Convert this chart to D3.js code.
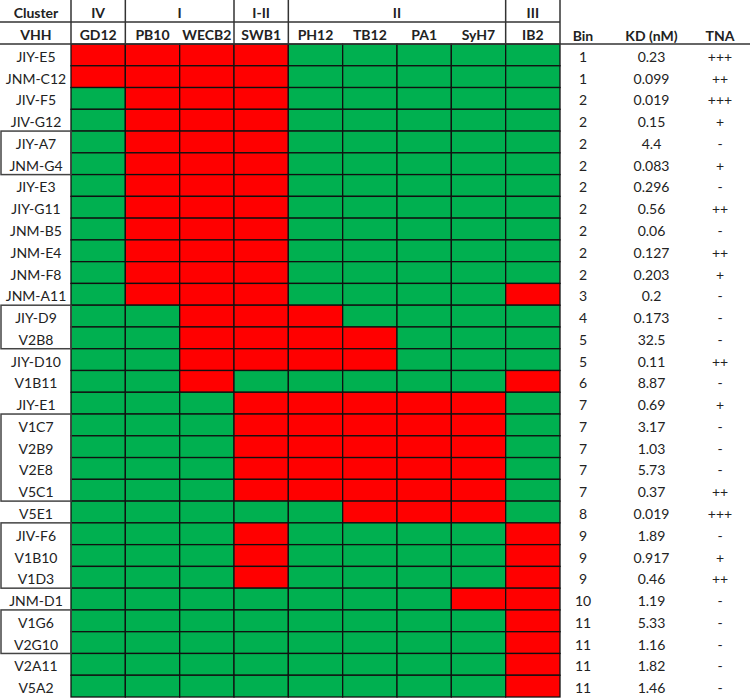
<!DOCTYPE html>
<html>
<head>
<meta charset="utf-8">
<script src="https://cdn.jsdelivr.net/npm/d3@7"></script>
<style>
  body { margin: 0; background: #fff; }
  svg text { font-family: Lato, "Open Sans", sans-serif; fill: #222; }
</style>
</head>
<body>
<div id="chart"></div>
<script>
const w = 750;
const h = 699;

// column antigens and their cluster
const antigens = ["GD12", "PB10", "WECB2", "SWB1", "PH12", "TB12", "PA1", "SyH7", "IB2"];
const antigenCluster = ["IV", "I", "I", "I-II", "II", "II", "II", "II", "III"];

const vhh = ["JIY-E5", "JNM-C12", "JIV-F5", "JIV-G12", "JIY-A7", "JNM-G4", "JIY-E3", "JIY-G11",
  "JNM-B5", "JNM-E4", "JNM-F8", "JNM-A11", "JIY-D9", "V2B8", "JIY-D10", "V1B11", "JIY-E1",
  "V1C7", "V2B9", "V2E8", "V5C1", "V5E1", "JIV-F6", "V1B10", "V1D3", "JNM-D1", "V1G6",
  "V2G10", "V2A11", "V5A2"];

// 1 = competes (red), 0 = no competition (green), one char per antigen
const binding = ["111100000", "111100000", "011100000", "011100000", "011100000", "011100000",
  "011100000", "011100000", "011100000", "011100000", "011100000", "011100001", "001110000",
  "001111000", "001111000", "001000001", "000111110", "000111110", "000111110", "000111110",
  "000111110", "000001110", "000100001", "000100001", "000100001", "000000011", "000000001",
  "000000001", "000000001", "000000001"];

const bins = [1, 1, 2, 2, 2, 2, 2, 2, 2, 2, 2, 3, 4, 5, 5, 6, 7, 7, 7, 7, 7, 8, 9, 9, 9, 10, 11, 11, 11, 11];
const kd = ["0.23", "0.099", "0.019", "0.15", "4.4", "0.083", "0.296", "0.56", "0.06", "0.127",
  "0.203", "0.2", "0.173", "32.5", "0.11", "8.87", "0.69", "3.17", "1.03", "5.73", "0.37",
  "0.019", "1.89", "0.917", "0.46", "1.19", "5.33", "1.16", "1.82", "1.46"];
const tna = ["+++", "++", "+++", "+", "-", "+", "-", "++", "-", "++", "+", "-", "-", "-", "++",
  "-", "+", "-", "-", "-", "++", "+++", "-", "+", "++", "-", "-", "-", "-", "-"];

// VHHs boxed together in the label column
const boxedGroups = [["JIY-A7", "JNM-G4"], ["JIY-D9", "V2B8"], ["V1C7", "V5C1"],
  ["JIV-F6", "V1D3"], ["V1G6", "V2G10"]];

const infoCols = ["Bin", "KD (nM)", "TNA"];

const svg = d3.select("#chart").append("svg")
  .attr("width", w)
  .attr("height", h);

const headTop = 0, headMid = 22, headBottom = 44;

const xScale = d3.scaleBand().domain(antigens).range([71, 560]);
const yScale = d3.scaleBand().domain(vhh).range([headBottom, 697]);
const infoX = d3.scalePoint().domain(infoCols).range([583, 720]);
const colour = d3.scaleOrdinal().domain(["1", "0"]).range(["#ff0000", "#00b050"]);

// cells
const cells = [];
vhh.forEach((v, i) => {
  antigens.forEach((a, j) => cells.push({ v: v, a: a, val: binding[i][j] }));
});

svg.append("g")
  .selectAll("rect")
  .data(cells)
  .join("rect")
  .attr("x", d => xScale(d.a))
  .attr("y", d => yScale(d.v))
  .attr("width", xScale.bandwidth())
  .attr("height", yScale.bandwidth())
  .attr("fill", d => colour(d.val))
  .attr("stroke", "#111")
  .attr("stroke-width", 1.3);

// cluster spans from antigen list
const clusters = [];
antigenCluster.forEach((c, j) => {
  const last = clusters[clusters.length - 1];
  if (last && last.name === c) last.end = antigens[j];
  else clusters.push({ name: c, start: antigens[j], end: antigens[j] });
});

const head = svg.append("g");

head.selectAll("text.cluster")
  .data(clusters)
  .join("text")
  .attr("class", "cluster")
  .attr("x", d => (xScale(d.start) + xScale(d.end) + xScale.bandwidth()) / 2)
  .attr("y", (headTop + headMid) / 2 + 1)
  .attr("text-anchor", "middle")
  .attr("dominant-baseline", "central")
  .attr("font-size", 14)
  .attr("font-weight", "bold")
  .text(d => d.name);

head.selectAll("text.antigen")
  .data(antigens)
  .join("text")
  .attr("class", "antigen")
  .attr("x", d => xScale(d) + xScale.bandwidth() / 2)
  .attr("y", (headMid + headBottom) / 2 + 1)
  .attr("text-anchor", "middle")
  .attr("dominant-baseline", "central")
  .attr("font-size", 14)
  .attr("font-weight", "bold")
  .text(d => d);

head.append("text")
  .attr("x", 36).attr("y", (headTop + headMid) / 2 + 1)
  .attr("text-anchor", "middle").attr("dominant-baseline", "central")
  .attr("font-size", 14).attr("font-weight", "bold")
  .text("Cluster");

head.append("text")
  .attr("x", 36).attr("y", (headMid + headBottom) / 2 + 1)
  .attr("text-anchor", "middle").attr("dominant-baseline", "central")
  .attr("font-size", 14).attr("font-weight", "bold")
  .text("VHH");

head.selectAll("text.info")
  .data(infoCols)
  .join("text")
  .attr("class", "info")
  .attr("x", d => infoX(d))
  .attr("y", (headMid + headBottom) / 2 + 2)
  .attr("text-anchor", "middle")
  .attr("dominant-baseline", "central")
  .attr("font-size", 14)
  .attr("font-weight", "bold")
  .text(d => d);

// header rules
head.append("line")
  .attr("x1", 0).attr("x2", xScale.range()[1])
  .attr("y1", headMid).attr("y2", headMid)
  .attr("stroke", "#333").attr("stroke-width", 1.5);
head.append("line")
  .attr("x1", 0).attr("x2", w)
  .attr("y1", headBottom).attr("y2", headBottom)
  .attr("stroke", "#333").attr("stroke-width", 1.5);

const dividers = [xScale.range()[0]].concat(clusters.map(c => xScale(c.end) + xScale.bandwidth()));
head.selectAll("line.div")
  .data(dividers)
  .join("line")
  .attr("class", "div")
  .attr("x1", d => d).attr("x2", d => d)
  .attr("y1", headTop).attr("y2", headBottom)
  .attr("stroke", "#333").attr("stroke-width", 1.5);

// row labels
const rows = svg.append("g");
rows.selectAll("text.vhh")
  .data(vhh)
  .join("text")
  .attr("class", "vhh")
  .attr("x", 36)
  .attr("y", d => yScale(d) + yScale.bandwidth() / 2 + 1.5)
  .attr("text-anchor", "middle")
  .attr("dominant-baseline", "central")
  .attr("font-size", 14)
  .text(d => d);

const infoRows = vhh.map((v, i) => ({ v: v, vals: [bins[i], kd[i], tna[i]] }));
infoCols.forEach((c, k) => {
  rows.selectAll("text.info" + k)
    .data(infoRows)
    .join("text")
    .attr("class", "info" + k)
    .attr("x", infoX(c))
    .attr("y", d => yScale(d.v) + yScale.bandwidth() / 2 + 1.5)
    .attr("text-anchor", "middle")
    .attr("dominant-baseline", "central")
    .attr("font-size", 14)
    .text(d => d.vals[k]);
});

// boxes round grouped VHHs
svg.append("g")
  .selectAll("rect")
  .data(boxedGroups)
  .join("rect")
  .attr("x", 1)
  .attr("y", d => yScale(d[0]))
  .attr("width", xScale.range()[0] - 1)
  .attr("height", d => yScale(d[1]) + yScale.bandwidth() - yScale(d[0]))
  .attr("fill", "none")
  .attr("stroke", "#444")
  .attr("stroke-width", 1.5);
</script>
</body>
</html>
